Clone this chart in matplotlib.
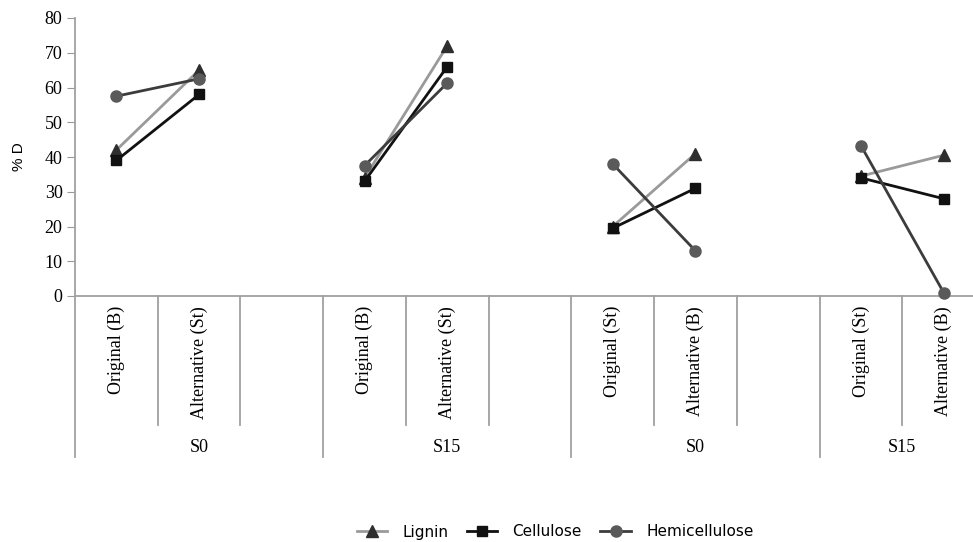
import numpy as np
import matplotlib
matplotlib.use("Agg")
import matplotlib.pyplot as plt
import matplotlib.transforms as mtransforms

# slots: two conditions per group, then an empty gap slot
groups = ["S0", "S15", "S0", "S15"]
conditions = [
    ["Original (B)", "Alternative (St)"],
    ["Original (B)", "Alternative (St)"],
    ["Original (St)", "Alternative (B)"],
    ["Original (St)", "Alternative (B)"],
]

lignin = [42, 65, 34, 72, 20, 41, 34.5, 40.5]
cellulose = [39, 58, 33, 66, 19.5, 31, 34, 28]
hemicellulose = [57.5, 62.5, 37.5, 61.3, 38, 13, 43.3, 1]

series = [
    ("Lignin", lignin, "#9a9a9a", "^", "#2e2e2e", 8.5),
    ("Cellulose", cellulose, "#111111", "s", "#111111", 7),
    ("Hemicellulose", hemicellulose, "#3c3c3c", "o", "#5a5a5a", 8),
]


def to_slots(vals):
    # insert a NaN gap after each pair so lines only join within a group
    out = []
    for g in range(len(groups)):
        out += vals[2 * g:2 * g + 2]
        if g < len(groups) - 1:
            out.append(np.nan)
    return np.array(out, dtype=float)


n_slots = 3 * len(groups) - 1
x = np.arange(n_slots) + 0.5

fig = plt.figure(figsize=(9.73, 5.42), dpi=100)
ax = fig.add_axes([75 / 973, 1 - 296 / 542, 910 / 973, 278 / 542])

for name, vals, lc, mk, mc, ms in series:
    ax.plot(x, to_slots(vals), color=lc, lw=2, marker=mk, markersize=ms,
            markerfacecolor=mc, markeredgecolor=mc, label=name, clip_on=False,
            zorder=3)

ax.set_xlim(0, n_slots)
ax.set_ylim(0, 80)
ax.set_yticks(np.arange(0, 81, 10))
ax.tick_params(axis="y", length=6, color="#999999", labelsize=13, pad=3)
for lab in ax.get_yticklabels():
    lab.set_fontfamily("Liberation Serif")
ax.set_xticks([])
for s in ["top", "right"]:
    ax.spines[s].set_visible(False)
for s in ["left", "bottom"]:
    ax.spines[s].set_color("#a0a0a0")
    ax.spines[s].set_linewidth(1.3)
ax.set_ylabel("% D", fontsize=11, fontfamily="Liberation Sans")
ax.yaxis.set_label_coords(-(75 - 26) / 910, 0.5)

# two-level category axis
trans = mtransforms.blended_transform_factory(ax.transData, ax.transAxes)
inner_bottom = -(425 - 296) / 278
outer_bottom = -(457 - 296) / 278
for g in range(len(groups)):
    start = 3 * g
    ax.plot([start, start], [0, outer_bottom], transform=trans, color="#a0a0a0",
            lw=1.3, clip_on=False)
    for k in range(1, 3):
        pos = start + k
        if pos < n_slots:
            ax.plot([pos, pos], [0, inner_bottom], transform=trans,
                    color="#a0a0a0", lw=1.3, clip_on=False)
    for k, cond in enumerate(conditions[g]):
        ax.text(start + k + 0.5, -(306 - 296) / 278, cond, transform=trans,
                rotation=90, ha="center", va="top", fontsize=13,
                fontfamily="Liberation Serif")
    width = min(3, n_slots - start)
    ax.text(start + width / 2, -(447 - 296) / 278, groups[g], transform=trans,
            ha="center", va="center", fontsize=13, fontfamily="Liberation Serif")

leg = fig.legend(loc="center", bbox_to_anchor=(555 / 973, 1 - 532 / 542), ncol=3,
                 frameon=False, fontsize=11, handlelength=2.0,
                 columnspacing=1.2, handletextpad=1.0)

plt.savefig("out.png", dpi=100)
